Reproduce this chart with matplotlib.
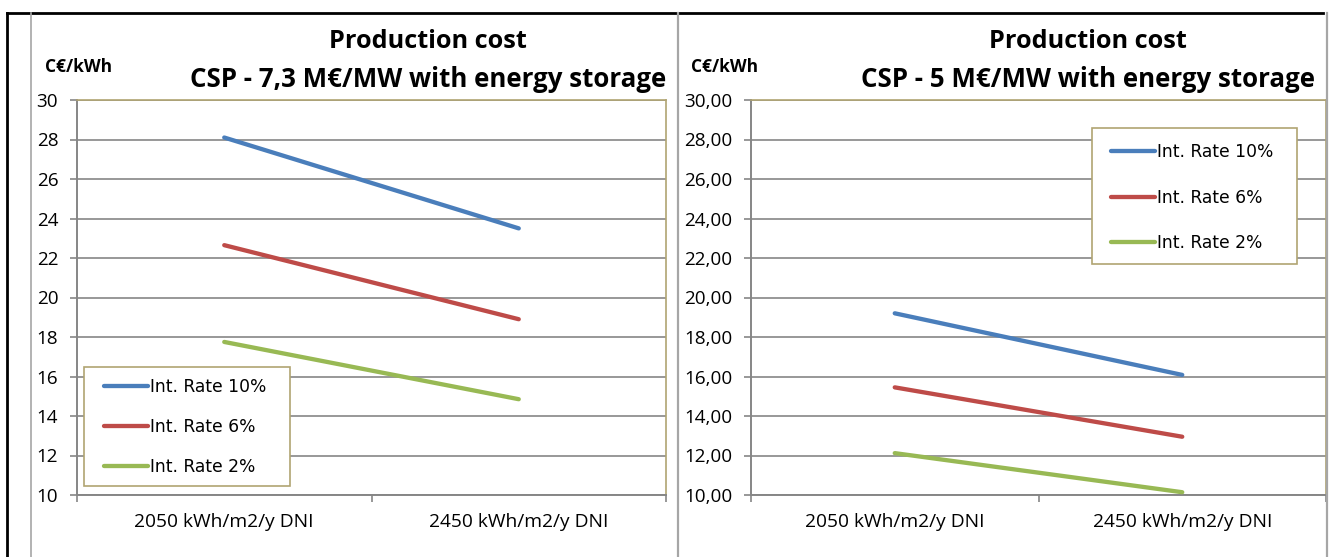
import matplotlib
matplotlib.use("Agg")
import matplotlib.pyplot as plt
from matplotlib.lines import Line2D
from matplotlib.patches import Rectangle

# Data
categories = ["2050 kWh/m2/y DNI", "2450 kWh/m2/y DNI"]
series_names = ["Int. Rate 10%", "Int. Rate 6%", "Int. Rate 2%"]
cost_73 = {
    "Int. Rate 10%": [28.1, 23.5],
    "Int. Rate 6%": [22.65, 18.9],
    "Int. Rate 2%": [17.75, 14.85],
}
cost_5 = {
    "Int. Rate 10%": [19.2, 16.08],
    "Int. Rate 6%": [15.45, 12.95],
    "Int. Rate 2%": [12.12, 10.14],
}
titles = ["Production cost\nCSP - 7,3 M€/MW with energy storage",
          "Production cost\nCSP - 5 M€/MW with energy storage"]
unit = "C€/kWh"
y_ticks = [10, 12, 14, 16, 18, 20, 22, 24, 26, 28, 30]

colors = {"Int. Rate 10%": "#4A7EBB", "Int. Rate 6%": "#BE4B48", "Int. Rate 2%": "#98B954"}
GRID = "#868686"
FRAME = "#B0A472"
BODY = "Open Sans"
LEG_FONT = "DejaVu Sans"
LEG_SIZE = 12.3

W, H = 1333, 557
fig = plt.figure(figsize=(W / 100, H / 100), dpi=100)


def fx(px):
    return px / W


def fy(py):
    return 1 - py / H


def make_axes(x0, x1, data, tickfmt, title, title_cx, unit_x, box, handle_x, row1_y, row_gap):
    ax = fig.add_axes([fx(x0), fy(495), fx(x1 - x0), fy(100) - fy(495)])
    xs = list(range(len(categories)))
    for name in series_names:
        ax.plot(xs, data[name], color=colors[name], lw=3.1,
                solid_capstyle="round", label=name, zorder=3)
    ax.set_xlim(-0.5, len(categories) - 0.5)
    ax.set_ylim(10, 30)
    ax.set_yticks(y_ticks)
    ax.set_yticklabels([tickfmt(v) for v in y_ticks], fontfamily=BODY, fontsize=13.6)
    ax.yaxis.grid(True, color=GRID, lw=1.2)
    ax.set_axisbelow(True)
    # category boundaries carry the tick marks, names sit centred between them
    ax.set_xticks([i - 0.5 for i in range(len(categories) + 1)])
    ax.set_xticklabels([])
    ax.set_xticks(xs, minor=True)
    ax.set_xticklabels(categories, minor=True, fontfamily=BODY, fontsize=13.8)
    ax.tick_params(axis="x", which="major", length=5, color=GRID, width=1.2)
    ax.tick_params(axis="x", which="minor", length=0, pad=13)
    ax.tick_params(axis="y", length=5, color=GRID, width=1.2, pad=8.5)
    for s in ["left", "bottom"]:
        ax.spines[s].set_color(GRID)
        ax.spines[s].set_linewidth(1.4)
    for s in ["top", "right"]:
        ax.spines[s].set_color(FRAME)
        ax.spines[s].set_linewidth(1.2)
    ax.patch.set_facecolor("white")
    l1, l2 = title.split("\n")
    fig.text(fx(title_cx), fy(48), l1, ha="center", va="baseline",
             fontfamily=BODY, fontweight="bold", fontsize=18.2)
    fig.text(fx(title_cx), fy(87), l2, ha="center", va="baseline",
             fontfamily=BODY, fontweight="bold", fontsize=18.6)
    fig.text(fx(unit_x), fy(72), unit, ha="left", va="baseline",
             fontfamily=BODY, fontweight="bold", fontsize=12.5)

    # legend box, then the entries placed inside it
    bx0, by0, bx1, by1 = box
    frame = Rectangle((fx(bx0), fy(by1)), fx(bx1 - bx0), fy(by0) - fy(by1),
                      transform=fig.transFigure, facecolor="white",
                      edgecolor=FRAME, lw=1.2, zorder=4, clip_on=False)
    ax.add_artist(frame)
    fs_px = LEG_SIZE * 100 / 72
    row_h = 1.16 * fs_px
    leg = ax.legend(loc="upper left",
                    bbox_to_anchor=(fx(handle_x), fy(row1_y - row_h / 2)),
                    bbox_transform=fig.transFigure,
                    prop={"family": LEG_FONT, "size": LEG_SIZE},
                    frameon=False, handlelength=2.55, handletextpad=0.12,
                    labelspacing=(row_gap - row_h) / fs_px,
                    borderpad=0, borderaxespad=0)
    leg.set_zorder(6)
    return ax


make_axes(77, 666, cost_73, lambda v: f"{v:d}", titles[0], 428, 45,
          (84, 367, 290, 486), 104, 388, 42)
make_axes(751, 1326, cost_5, lambda v: f"{v:.2f}".replace(".", ","), titles[1], 1088, 691,
          (1092, 128, 1297, 264), 1111, 153, 47.5)


# sheet frame lines
def fline(x0, y0, x1, y1, color, lw):
    fig.add_artist(Line2D([fx(x0), fx(x1)], [fy(y0), fy(y1)], color=color, lw=lw,
                          transform=fig.transFigure))


fline(7, 13, 1323, 13, "black", 2.0)
fline(7, 13, 7, 557, "black", 2.0)
fline(31, 13, 31, 557, "#A6A6A6", 1.2)
fline(678, 13, 678, 557, "#A6A6A6", 1.6)
fline(1327, 13, 1327, 557, "#A6A6A6", 1.6)

fig.savefig("out.png", dpi=100, facecolor="white")
